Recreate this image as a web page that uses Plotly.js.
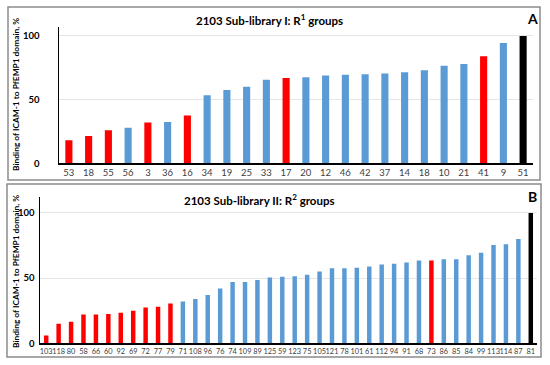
<!DOCTYPE html>
<html>
<head>
<meta charset="utf-8">
<script src="https://cdn.plot.ly/plotly-3.0.1.min.js"></script>
<style>html,body{margin:0;padding:0;background:#fff;}#chart{width:550px;height:365px;}</style>
</head>
<body>
<div id="chart"></div>
<script>
// Panel A: Sub-library I, R1 groups
const labelsA = ['53','18','55','56','3','36','16','34','19','25','33','17','20','12','46','42','37','14','18','10','21','41','9','51'];
const valuesA = [18,21.5,26,28,32,32.5,37.5,53.5,57.5,60,65.5,67,67.5,69,69.5,70,70.5,71.5,73,76.5,78,84,94.5,100];
const groupsA = ['red','red','red','blue','red','blue','red','blue','blue','blue','blue','red','blue','blue','blue','blue','blue','blue','blue','blue','blue','red','blue','ref'];

// Panel B: Sub-library II, R2 groups
const labelsB = ['103','118','80','58','66','60','92','69','72','77','79','71','108','96','76','74','109','89','125','59','123','75','105','121','78','101','61','112','94','91','68','73','86','85','84','99','113','114','87','81'];
const valuesB = [6,15,16.5,22,22,22.5,23.5,25,27.5,28,30.5,32,34,37,42,47,47,48.5,50.5,51,51.5,52.5,55,57.5,57.5,58,59,60.5,61,62,63.5,63.5,64.5,64.5,67.5,69.5,75.5,76,80,100];
const groupsB = ['red','red','red','red','red','red','red','red','red','red','red','blue','blue','blue','blue','blue','blue','blue','blue','blue','blue','blue','blue','blue','blue','blue','blue','blue','blue','blue','blue','red','blue','blue','blue','blue','blue','blue','blue','ref'];

const yTicks = [0, 50, 100];
const titleA = '2103 Sub-library I: R<sup>1</sup> groups';
const titleB = '2103 Sub-library II: R<sup>2</sup> groups';
const yTitle = 'Binding of ICAM-1 to PfEMP1 domain, %';

const palette = {red:'#FF0000', blue:'#5B9BD5', ref:'#000000'};
const FONT = 'Lato, "Open Sans", sans-serif';

const idxA = labelsA.map((_, i) => i);
const idxB = labelsB.map((_, i) => i);

const traces = [
  {type:'bar', x: idxA, y: valuesA, marker:{color: groupsA.map(g => palette[g])}, xaxis:'x', yaxis:'y', width:0.36, hoverinfo:'none'},
  {type:'bar', x: idxB, y: valuesB, marker:{color: groupsB.map(g => palette[g])}, xaxis:'x2', yaxis:'y2', width:0.36, hoverinfo:'none'}
];

const H = 365, W = 550;
const px = v => v / W, py = v => 1 - v / H;

const layout = {
  width: W, height: H,
  margin:{l:0,r:0,t:0,b:0},
  paper_bgcolor:'#fff', plot_bgcolor:'rgba(0,0,0,0)',
  showlegend:false,
  font:{family: FONT, color:'#000'},
  xaxis:{domain:[px(59), px(533)], range:[-0.5, labelsA.length-0.5], anchor:'y',
    tickvals: idxA, ticktext: labelsA, showgrid:false, zeroline:false,
    showline:true, linecolor:'#000', linewidth:1.5, ticks:'',
    tickfont:{size:9.5, color:'#404040', family: FONT}},
  yaxis:{domain:[py(163.3), py(27)], range:[0,107], anchor:'x',
    tickvals: yTicks, ticktext: yTicks.map(String), showgrid:true, gridcolor:'#e6e6e6', gridwidth:1,
    zeroline:false, showline:true, linecolor:'#000', linewidth:1.5, ticks:'', ticklabelstandoff:16,
    tickfont:{size:9.5, color:'#000', family: FONT, weight:'bold'}},
  xaxis2:{domain:[px(40), px(537)], range:[-0.5, labelsB.length-0.5], anchor:'y2',
    tickvals: idxB, ticktext: labelsB, showgrid:false, zeroline:false,
    showline:true, linecolor:'#000', linewidth:1.5, ticks:'', tickangle:0,
    tickfont:{size:7.4, color:'#404040', family: FONT}},
  yaxis2:{domain:[py(343.3), py(197.3)], range:[0,112], anchor:'x2',
    tickvals: yTicks, ticktext: yTicks.map(String), showgrid:true, gridcolor:'#e6e6e6', gridwidth:1,
    zeroline:false, showline:true, linecolor:'#000', linewidth:1.5, ticks:'', ticklabelstandoff:2,
    tickfont:{size:9.5, color:'#000', family: FONT, weight:'bold'}},
  shapes:[
    {type:'rect', xref:'paper', yref:'paper', x0:px(8), x1:px(540), y0:py(180), y1:py(7), line:{color:'#8c8c8c', width:1.5}},
    {type:'rect', xref:'paper', yref:'paper', x0:px(7), x1:px(541), y0:py(357), y1:py(184), line:{color:'#8c8c8c', width:1.5}}
  ],
  annotations:[
    {text:titleA, xref:'paper', yref:'paper', x:px(269), y:py(19), xanchor:'center', yanchor:'middle', showarrow:false, font:{size:11.5, family:FONT, weight:'bold', color:'#000'}},
    {text:titleB, xref:'paper', yref:'paper', x:px(259), y:py(199), xanchor:'center', yanchor:'middle', showarrow:false, font:{size:11.5, family:FONT, weight:'bold', color:'#000'}},
    {text:'A', xref:'paper', yref:'paper', x:px(532), y:py(18), xanchor:'center', yanchor:'middle', showarrow:false, font:{size:14, family:FONT, weight:'bold', color:'#000'}},
    {text:'B', xref:'paper', yref:'paper', x:px(532), y:py(196), xanchor:'center', yanchor:'middle', showarrow:false, font:{size:14, family:FONT, weight:'bold', color:'#000'}},
    {text:yTitle, xref:'paper', yref:'paper', x:px(16), y:py(95), xanchor:'center', yanchor:'middle', textangle:-90, showarrow:false, font:{size:8.4, family:FONT, weight:'bold', color:'#000'}},
    {text:yTitle, xref:'paper', yref:'paper', x:px(16), y:py(272), xanchor:'center', yanchor:'middle', textangle:-90, showarrow:false, font:{size:8.4, family:FONT, weight:'bold', color:'#000'}}
  ]
};

Plotly.newPlot('chart', traces, layout, {staticPlot:true, displayModeBar:false});
</script>
</body>
</html>
